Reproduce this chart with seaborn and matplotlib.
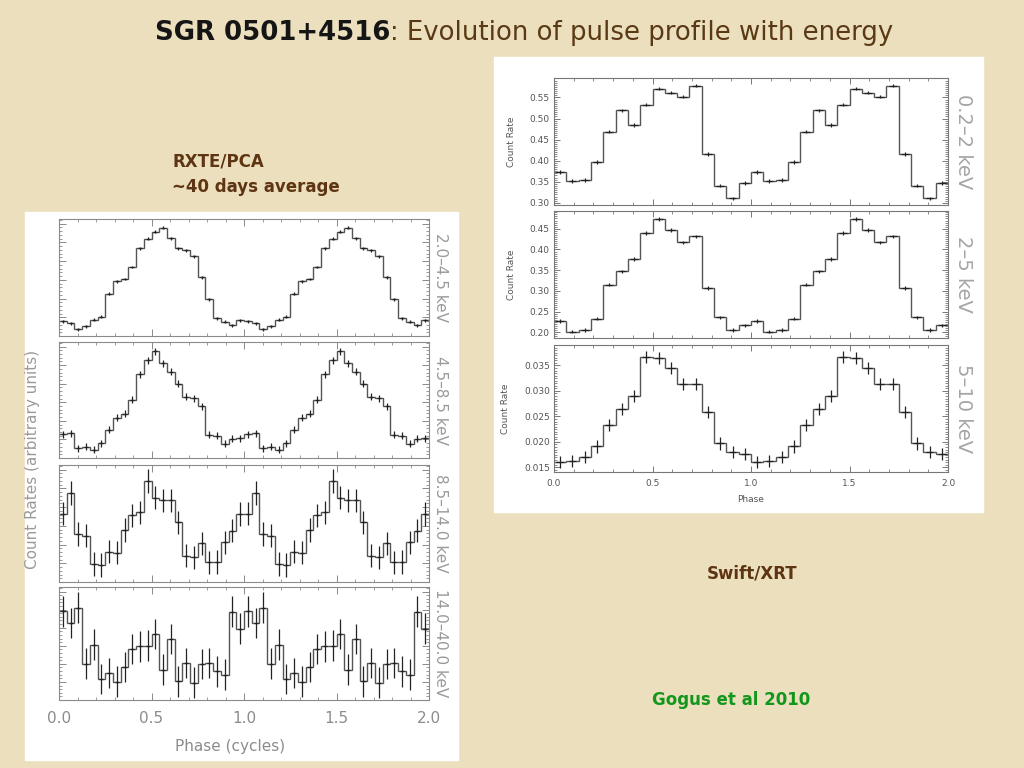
import numpy as np
import matplotlib
matplotlib.use("Agg")
import matplotlib.pyplot as plt
from matplotlib.patches import Rectangle
from matplotlib.ticker import MultipleLocator, AutoMinorLocator, NullFormatter, FuncFormatter
import seaborn as sns

# RXTE/PCA pulse profiles, 24 bins per cycle (arbitrary units)
rxte_bands = ["2.0\u20134.5 keV", "4.5\u20138.5 keV", "8.5\u201314.0 keV", "14.0\u201340.0 keV"]
rxte_2_4 = [0.125, 0.110, 0.057, 0.082, 0.139, 0.164, 0.363, 0.467, 0.487, 0.589, 0.748, 0.833,
            0.890, 0.926, 0.836, 0.748, 0.734, 0.680, 0.501, 0.312, 0.150, 0.122, 0.091, 0.133]
rxte_4_8 = [0.205, 0.213, 0.084, 0.098, 0.072, 0.127, 0.245, 0.349, 0.383, 0.501, 0.720, 0.844,
            0.922, 0.816, 0.744, 0.640, 0.527, 0.513, 0.447, 0.202, 0.190, 0.124, 0.167, 0.170]
rxte_8_14 = [0.583, 0.759, 0.411, 0.397, 0.155, 0.147, 0.259, 0.250, 0.443, 0.569, 0.595, 0.862,
             0.721, 0.698, 0.698, 0.509, 0.224, 0.210, 0.330, 0.167, 0.170, 0.339, 0.440, 0.580]
rxte_14_40 = [0.785, 0.682, 0.818, 0.321, 0.491, 0.185, 0.241, 0.162, 0.294, 0.450, 0.474, 0.482,
              0.585, 0.268, 0.541, 0.165, 0.326, 0.153, 0.318, 0.326, 0.253, 0.224, 0.782, 0.632]
rxte_err = [0.012, 0.03, 0.10, 0.135]

# Swift/XRT pulse profiles, 16 bins per cycle (counts/s)
xrt_bands = ["0.2\u20132 keV", "2\u20135 keV", "5\u201310 keV"]
xrt_02_2 = [0.373, 0.352, 0.354, 0.397, 0.469, 0.519, 0.485, 0.533,
            0.571, 0.561, 0.552, 0.578, 0.416, 0.341, 0.311, 0.347]
xrt_2_5 = [0.227, 0.201, 0.205, 0.233, 0.315, 0.347, 0.377, 0.440,
           0.474, 0.447, 0.417, 0.432, 0.307, 0.236, 0.205, 0.217]
xrt_5_10 = [0.0161, 0.0163, 0.0170, 0.0191, 0.0233, 0.0265, 0.0290, 0.0366,
            0.0364, 0.0345, 0.0313, 0.0313, 0.0259, 0.0197, 0.0180, 0.0177]
xrt_err = [0.004, 0.004, 0.0012]
xrt_ylims = [(0.295, 0.596), (0.186, 0.493), (0.0141, 0.039)]
xrt_major = [0.05, 0.05, 0.005]

BG = "#ecdfbe"
BROWN = "#5e3512"


def draw_profile(ax, values, err, xerr):
    vals = np.tile(values, 2)
    edges = np.linspace(0, 2, len(vals) + 1)
    centers = 0.5 * (edges[:-1] + edges[1:])
    ax.stairs(vals, edges, baseline=None, color="#555555", lw=1.0)
    ax.errorbar(centers, vals, yerr=err, xerr=xerr, fmt="none",
                ecolor="#222222", elinewidth=0.9)
    ax.set_xlim(0, 2)


def style_axes(ax, color, major_len=5):
    ax.set_facecolor("white")
    ax.tick_params(which="both", direction="in", top=True, right=True,
                   colors=color)
    ax.tick_params(which="major", length=major_len, width=0.7)
    ax.tick_params(which="minor", length=major_len / 2, width=0.6)
    for s in ax.spines.values():
        s.set_color(color)
        s.set_linewidth(0.8)
    ax.xaxis.set_major_locator(MultipleLocator(0.5))
    ax.xaxis.set_minor_locator(MultipleLocator(0.1))
    ax.grid(False)


sns.set_theme(style="ticks")
plt.rcParams["font.family"] = ["DejaVu Sans"]

fig = plt.figure(figsize=(10.24, 7.68), dpi=100, facecolor=BG)
W, H = 1024, 768


def frac(x0, y_top, x1, y_bot):
    return [x0 / W, 1 - y_bot / H, (x1 - x0) / W, (y_bot - y_top) / H]


# white paper boxes behind the two figures
for box in [(25, 212, 458, 760), (494, 57, 983, 512)]:
    fig.patches.append(Rectangle((box[0] / W, 1 - box[3] / H),
                                 (box[2] - box[0]) / W, (box[3] - box[1]) / H,
                                 transform=fig.transFigure, color="white", zorder=-5))

# ---- left: RXTE/PCA ----
left_rows = [(219, 336), (342, 458), (465, 582), (587, 700)]
rxte_data = [rxte_2_4, rxte_4_8, rxte_8_14, rxte_14_40]
gray = "#8a8a8a"
for i, (top, bot) in enumerate(left_rows):
    ax = fig.add_axes(frac(59, top, 429, bot))
    draw_profile(ax, rxte_data[i], rxte_err[i], 0.011)
    style_axes(ax, gray)
    ax.set_ylim(0, 1)
    ax.yaxis.set_major_locator(MultipleLocator(0.16))
    ax.yaxis.set_minor_locator(AutoMinorLocator(5))
    ax.yaxis.set_major_formatter(NullFormatter())
    if i < 3:
        ax.xaxis.set_major_formatter(NullFormatter())
    else:
        ax.set_xticks([0, 0.5, 1.0, 1.5, 2.0])
        ax.set_xticklabels(["0.0", "0.5", "1.0", "1.5", "2.0"])
        ax.tick_params(axis="x", labelsize=11, pad=8, labelcolor="#8c8c8c")
    fig.text(441 / W, 1 - (top + bot) / 2 / H, rxte_bands[i], rotation=270,
             ha="center", va="center", fontsize=11, color="#9a9a9a")

fig.text(33 / W, 1 - 459 / H, "Count Rates (arbitrary units)", rotation=90,
         ha="center", va="center", fontsize=11, color="#9a9a9a")
fig.text(230 / W, 1 - 746 / H, "Phase (cycles)", ha="center", va="center",
         fontsize=11, color="#8c8c8c")

# ---- right: Swift/XRT ----
right_rows = [(78, 205), (211, 338), (345, 472)]
xrt_data = [xrt_02_2, xrt_2_5, xrt_5_10]
for i, (top, bot) in enumerate(right_rows):
    ax = fig.add_axes(frac(554, top, 948, bot))
    draw_profile(ax, xrt_data[i], xrt_err[i], 0.02)
    style_axes(ax, "#777777", major_len=4)
    ax.set_ylim(*xrt_ylims[i])
    ax.yaxis.set_major_locator(MultipleLocator(xrt_major[i]))
    ax.yaxis.set_minor_locator(AutoMinorLocator(10))
    fmt = "{:.3f}" if xrt_major[i] < 0.01 else "{:.2f}"
    ax.yaxis.set_major_formatter(FuncFormatter(lambda v, p, f=fmt: f.format(v)))
    ax.tick_params(axis="y", labelsize=6.5, labelcolor="#555555", pad=3)
    ax.set_ylabel("Count Rate", fontsize=6.5, color="#555555", labelpad=10)
    if i < 2:
        ax.xaxis.set_major_formatter(NullFormatter())
    else:
        ax.set_xticks([0, 0.5, 1.0, 1.5, 2.0])
        ax.set_xticklabels(["0.0", "0.5", "1.0", "1.5", "2.0"])
        ax.tick_params(axis="x", labelsize=6.5, labelcolor="#555555", pad=5)
    fig.text(963 / W, 1 - (top + bot) / 2 / H, xrt_bands[i], rotation=270,
             ha="center", va="center", fontsize=14, color="#a5a5a5")

fig.text(751 / W, 1 - 500 / H, "Phase", ha="center", va="center",
         fontsize=6.5, color="#555555")

# ---- annotations ----
fig.text(172 / W, 1 - 162 / H, "RXTE/PCA", ha="left", va="center",
         fontsize=12, weight="bold", color=BROWN)
fig.text(172 / W, 1 - 187 / H, "~40 days average", ha="left", va="center",
         fontsize=12, weight="bold", color=BROWN)
fig.text(752 / W, 1 - 573 / H, "Swift/XRT", ha="center", va="center",
         fontsize=12, weight="bold", color=BROWN)
fig.text(731 / W, 1 - 700 / H, "Gogus et al 2010", ha="center", va="center",
         fontsize=12, weight="bold", color="#12961c")

# ---- title in two colours, fitted to the slide width ----
renderer = fig.canvas.get_renderer()
size = 20
for _ in range(2):
    t1 = fig.text(155 / W, 1 - 33 / H, "SGR 0501+4516", ha="left", va="center",
                  fontsize=size, weight="bold", color="#151515")
    bb = t1.get_window_extent(renderer)
    t2 = fig.text(bb.x1 / W, 1 - 33 / H, ": Evolution of pulse profile with energy",
                  ha="left", va="center", fontsize=size, color="#5a3a14")
    bb2 = t2.get_window_extent(renderer)
    total = bb2.x1 - bb.x0
    if abs(total - 738) < 4:
        break
    t1.remove()
    t2.remove()
    size *= 738 / total

fig.savefig("out.png", dpi=100, facecolor=BG)
